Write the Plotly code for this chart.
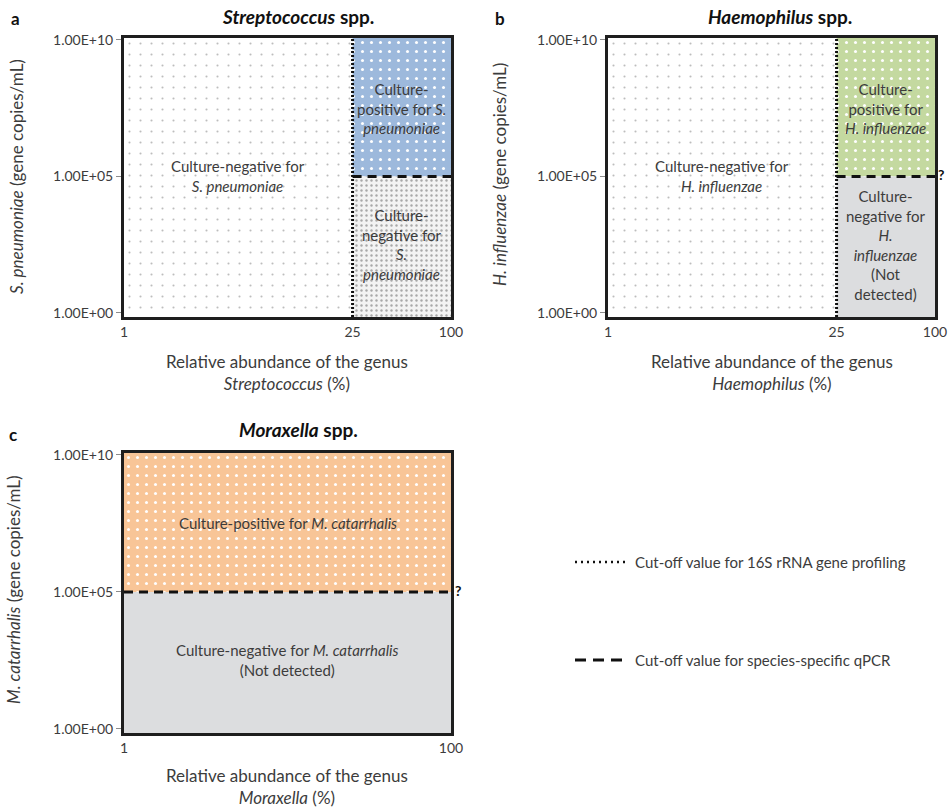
import math
import plotly.graph_objects as go

# ---------------------------------------------------------------- data
x_tick_vals_ab = [1, 25, 100]
x_tick_vals_c = [1, 100]
y_tick_vals = [1, 1e5, 1e10]
y_tick_text = ["1.00E+00", "1.00E+05", "1.00E+10"]

abundance_cutoff = 25      # % relative abundance, 16S rRNA gene profiling
qpcr_cutoff = 1e5          # gene copies/mL, species-specific qPCR
abundance_min, abundance_max = 1, 100
load_min, load_max = 1, 1e10

genera = ["Streptococcus", "Haemophilus", "Moraxella"]
species = ["S. pneumoniae", "H. influenzae", "M. catarrhalis"]

# ---------------------------------------------------------------- layout constants
W, H = 950, 808
FONT = "Lato"
TXT = "#3c3c3c"
Y_RANGE = [-0.15, 10.07]          # log10 axis limits
Y_LO, Y_HI = 10 ** Y_RANGE[0], 10 ** Y_RANGE[1]
OVERHANG = 0.012                  # decades the qPCR line runs past the frame

BLUE, GREEN, ORANGE, GREY = "#9db9dc", "#c4d9a0", "#f8c597", "#dcdddf"


def px(x):
    return x / W


def py(y):
    return 1 - y / H


def lmid(a, b):
    """log10 of the geometric midpoint (annotation coords on log axes)."""
    return (math.log10(a) + math.log10(b)) / 2


fig = go.Figure()

# panel frames in pixels: (left, right, top, bottom)
frames = {
    1: (124, 451, 38, 317),
    2: (608, 935, 38, 317),
    3: (124, 451, 453, 733),
}


def axis_ids(i):
    return ("x" if i == 1 else f"x{i}"), ("y" if i == 1 else f"y{i}")


def region(i, x0, x1, y0, y1, bg, fg=None, size=8, solidity=0.1):
    xa, ya = axis_ids(i)
    kw = dict(fillcolor=bg)
    if fg is not None:
        kw["fillpattern"] = dict(shape=".", fgcolor=fg, bgcolor=bg,
                                 size=size, solidity=solidity, fillmode="replace")
    fig.add_trace(go.Scatter(
        x=[x0, x1, x1, x0, x0], y=[y0, y0, y1, y1, y0],
        mode="none", fill="toself", xaxis=xa, yaxis=ya,
        hoverinfo="skip", showlegend=False, **kw))


def line(i, xs, ys, dash, width=3):
    xa, ya = axis_ids(i)
    fig.add_trace(go.Scatter(
        x=xs, y=ys, mode="lines", xaxis=xa, yaxis=ya, cliponaxis=False,
        line=dict(color="#111111", width=width, dash=dash),
        hoverinfo="skip", showlegend=False))


SPARSE = dict(bg="#ffffff", fg="#bdbdbd", size=11, solidity=0.03)

# --- panel a: Streptococcus
region(1, abundance_min, abundance_cutoff, Y_LO, Y_HI, **SPARSE)
region(1, abundance_cutoff, abundance_max, qpcr_cutoff, Y_HI, BLUE, "#ffffff", 9, 0.09)
region(1, abundance_cutoff, abundance_max, Y_LO, qpcr_cutoff, "#f3f3f3", "#a8a8a8", 5, 0.18)
line(1, [abundance_cutoff, abundance_cutoff], [Y_LO, Y_HI], "2px,2px")
line(1, [abundance_cutoff, abundance_max], [qpcr_cutoff, qpcr_cutoff], "9px,6px")

# --- panel b: Haemophilus
region(2, abundance_min, abundance_cutoff, Y_LO, Y_HI, **SPARSE)
region(2, abundance_cutoff, abundance_max, qpcr_cutoff, Y_HI, GREEN, "#ffffff", 9, 0.09)
region(2, abundance_cutoff, abundance_max, Y_LO, qpcr_cutoff, GREY)
line(2, [abundance_cutoff, abundance_cutoff], [Y_LO, Y_HI], "2px,2px")
line(2, [abundance_cutoff, abundance_max * 10 ** OVERHANG], [qpcr_cutoff, qpcr_cutoff], "9px,6px")

# --- panel c: Moraxella
region(3, abundance_min, abundance_max, qpcr_cutoff, Y_HI, ORANGE, "#ffffff", 9, 0.09)
region(3, abundance_min, abundance_max, Y_LO, qpcr_cutoff, GREY)
line(3, [abundance_min, abundance_max * 10 ** OVERHANG], [qpcr_cutoff, qpcr_cutoff], "9px,6px")

# ---------------------------------------------------------------- axes
tick_font = dict(family=FONT, size=14, color=TXT)
for i, (l, r, t, b) in frames.items():
    xkey = "xaxis" if i == 1 else f"xaxis{i}"
    ykey = "yaxis" if i == 1 else f"yaxis{i}"
    xa, ya = axis_ids(i)
    xt = x_tick_vals_c if i == 3 else x_tick_vals_ab
    fig.layout[xkey] = dict(
        domain=[px(l), px(r)], anchor=ya, type="log", range=[0, 2],
        tickvals=xt, ticktext=[str(v) for v in xt],
        showgrid=False, zeroline=False, showline=True, mirror=True,
        linecolor="#1e1e1e", linewidth=3, ticks="", tickfont=tick_font,
        automargin=False, fixedrange=True)
    fig.layout[ykey] = dict(
        domain=[py(b), py(t)], anchor=xa, type="log", range=Y_RANGE,
        tickvals=y_tick_vals, ticktext=y_tick_text,
        showgrid=False, zeroline=False, showline=True, mirror=True,
        linecolor="#1e1e1e", linewidth=3, ticks="outside", ticklen=5,
        tickcolor="#8c8c8c", tickwidth=1, tickfont=tick_font,
        automargin=False, fixedrange=True)

# ---------------------------------------------------------------- text
ann = []


def note(text, x, y, size=15, xref="paper", yref="paper", **kw):
    d = dict(text=text, x=x, y=y, xref=xref, yref=yref, showarrow=False,
             xanchor=kw.pop("xanchor", "center"), yanchor=kw.pop("yanchor", "middle"),
             font=dict(family=FONT, size=size, color=kw.pop("color", TXT)))
    d.update(kw)
    ann.append(d)


# panel letters and titles
note("<b>a</b>", px(15), py(18), size=17, color="#111")
note("<b>b</b>", px(500), py(18), size=17, color="#111")
note("<b>c</b>", px(13), py(434), size=17, color="#111")
note(f"<b><i>{genera[0]}</i> spp.</b>", px(298), py(16), size=19, color="#111")
note(f"<b><i>{genera[1]}</i> spp.</b>", px(780), py(16), size=19, color="#111")
note(f"<b><i>{genera[2]}</i> spp.</b>", px(298), py(429), size=19, color="#111")

# x axis titles
for g, cx, cy in [(genera[0], 287, 372), (genera[1], 772, 372), (genera[2], 287, 786)]:
    note(f"Relative abundance of the genus<br><i>{g}</i> (%)", px(cx), py(cy), size=17)

# y axis titles
for s, cx, cy in [(species[0], 17, 177), (species[1], 500, 175), (species[2], 13, 590)]:
    note(f"<i>{s}</i> (gene copies/mL)", px(cx), py(cy), size=17, textangle=-90)

# region labels, placed at the geometric centre of each region
lx_left = lmid(abundance_min, abundance_cutoff)
lx_right = lmid(abundance_cutoff, abundance_max)
lx_all = lmid(abundance_min, abundance_max)
ly_top = lmid(qpcr_cutoff, load_max)
ly_bot = lmid(load_min, qpcr_cutoff)
ly_mid = lmid(load_min, load_max)

note(f"Culture-negative for<br><i>{species[0]}</i>", lx_left, ly_mid, xref="x", yref="y")
note("Culture-<br>positive for <i>S.</i><br><i>pneumoniae</i>", lx_right, ly_top, xref="x", yref="y")
note("Culture-<br>negative for<br><i>S.</i><br><i>pneumoniae</i>", lx_right, ly_bot, xref="x", yref="y")

note(f"Culture-negative for<br><i>{species[1]}</i>", lx_left, ly_mid, xref="x2", yref="y2")
note(f"Culture-<br>positive for<br><i>{species[1]}</i>", lx_right, ly_top, xref="x2", yref="y2")
note("Culture-<br>negative for<br><i>H.</i><br><i>influenzae</i><br>(Not<br>detected)",
     lx_right, ly_bot, xref="x2", yref="y2")

note(f"Culture-positive for <i>{species[2]}</i>", lx_all, ly_top, xref="x3", yref="y3")
note(f"Culture-negative for <i>{species[2]}</i><br>(Not detected)", lx_all, ly_bot,
     xref="x3", yref="y3")

# uncertainty marks at the end of the qPCR cut-off
note("<b>?</b>", px(941), py(175), size=14, color="#111")
note("<b>?</b>", px(458), py(590), size=14, color="#111")

# key
note("Cut-off value for 16S rRNA gene profiling", px(633), py(562), xanchor="left")
note("Cut-off value for species-specific qPCR", px(633), py(660), xanchor="left")

shapes = [
    dict(type="line", xref="paper", yref="paper", x0=px(575), x1=px(629),
         y0=py(562), y1=py(562), line=dict(color="#111", width=2.5, dash="2px,4px")),
    dict(type="line", xref="paper", yref="paper", x0=px(575), x1=px(629),
         y0=py(660), y1=py(660), line=dict(color="#111", width=3, dash="11px,7px")),
]

fig.update_layout(
    width=W, height=H, margin=dict(l=0, r=0, t=0, b=0),
    paper_bgcolor="white", plot_bgcolor="white",
    annotations=ann, shapes=shapes, showlegend=False,
    font=dict(family=FONT, color=TXT),
)

fig.write_html("out.html")
